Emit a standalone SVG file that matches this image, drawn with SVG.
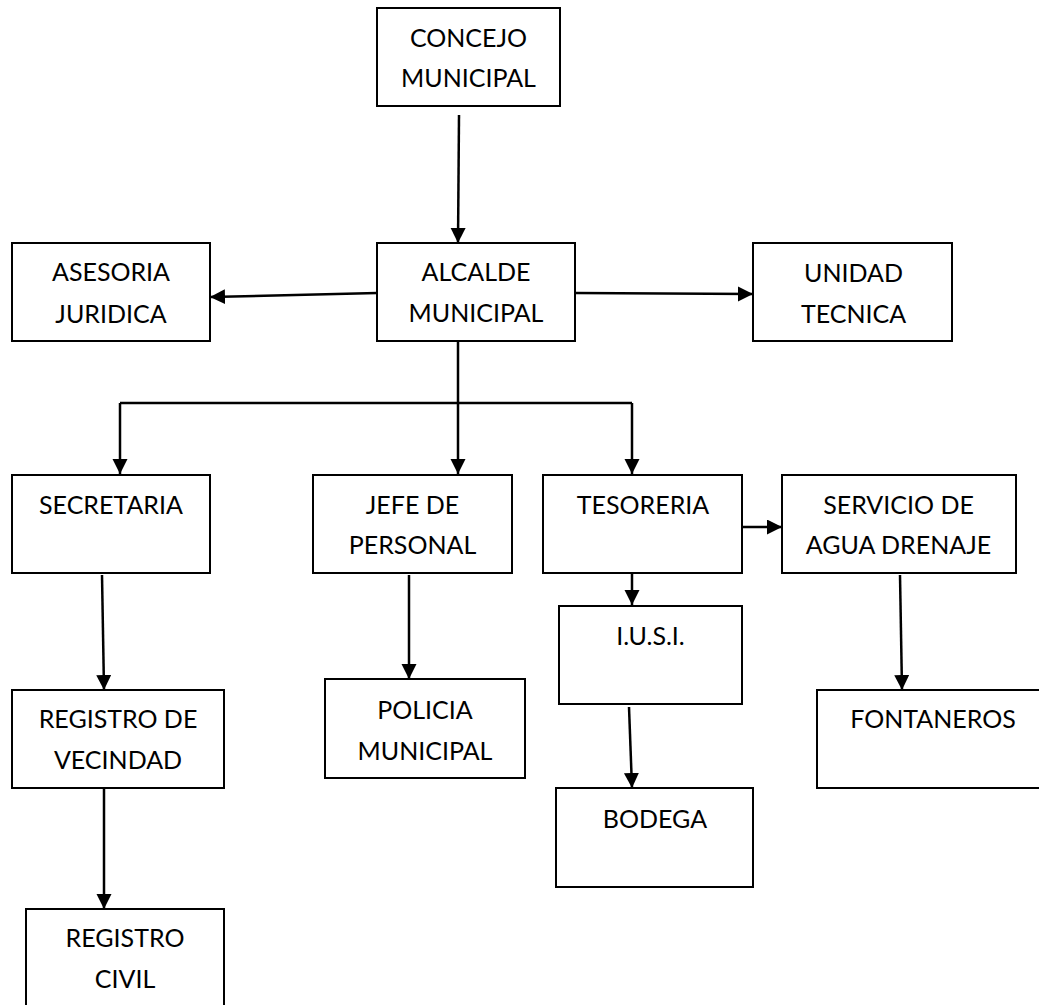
<svg xmlns="http://www.w3.org/2000/svg" width="1039" height="1005" viewBox="0 0 1039 1005">
<style>
.box{fill:#fff;stroke:#000;stroke-width:2}
.t{font-family:Lato,"Liberation Sans",Arial,sans-serif;font-size:25px;fill:#000;text-anchor:middle}
.c{fill:none;stroke:#000;stroke-width:2.5}
</style>
<defs>
<marker id="ah" markerUnits="userSpaceOnUse" markerWidth="17" markerHeight="17" refX="15" refY="7.5" orient="auto">
<path d="M0,0 L15,7.5 L0,15 z" fill="#000"/>
</marker>
</defs>
<rect width="1039" height="1005" fill="#fff"/>
<g id="connectors">
<path class="c" d="M459,115 L458,243" marker-end="url(#ah)"/>
<path class="c" d="M377,293 L210,297" marker-end="url(#ah)"/>
<path class="c" d="M575,293 L753,294" marker-end="url(#ah)"/>
<path class="c" d="M458,341 L458,474" marker-end="url(#ah)"/>
<path class="c" d="M120,403 L632,403"/>
<path class="c" d="M120,403 L120,474" marker-end="url(#ah)"/>
<path class="c" d="M632,403 L632,474" marker-end="url(#ah)"/>
<path class="c" d="M742,527 L782,527" marker-end="url(#ah)"/>
<path class="c" d="M632,573 L632,605" marker-end="url(#ah)"/>
<path class="c" d="M629,707 L632,788" marker-end="url(#ah)"/>
<path class="c" d="M900,575 L902,690" marker-end="url(#ah)"/>
<path class="c" d="M102,575 L104,690" marker-end="url(#ah)"/>
<path class="c" d="M104,788 L104,909" marker-end="url(#ah)"/>
<path class="c" d="M409,575 L409,679" marker-end="url(#ah)"/>
</g>
<g id="concejo"><rect class="box" x="377" y="8" width="183" height="98"/><text class="t" x="468.5" y="47">CONCEJO</text><text class="t" x="468.5" y="87">MUNICIPAL</text></g>
<g id="alcalde"><rect class="box" x="377" y="243" width="198" height="98"/><text class="t" x="476" y="281">ALCALDE</text><text class="t" x="476" y="322">MUNICIPAL</text></g>
<g id="asesoria"><rect class="box" x="12" y="243" width="198" height="98"/><text class="t" x="111" y="281">ASESORIA</text><text class="t" x="111" y="323">JURIDICA</text></g>
<g id="unidad"><rect class="box" x="753" y="243" width="199" height="98"/><text class="t" x="853.5" y="282">UNIDAD</text><text class="t" x="853.5" y="323">TECNICA</text></g>
<g id="secretaria"><rect class="box" x="12" y="475" width="198" height="98"/><text class="t" x="111" y="514">SECRETARIA</text></g>
<g id="jefe"><rect class="box" x="313" y="475" width="199" height="98"/><text class="t" x="412.5" y="514">JEFE DE</text><text class="t" x="412.5" y="554">PERSONAL</text></g>
<g id="tesoreria"><rect class="box" x="543" y="475" width="199" height="98"/><text class="t" x="643" y="514">TESORERIA</text></g>
<g id="servicio"><rect class="box" x="782" y="475" width="234" height="98"/><text class="t" x="898.5" y="514">SERVICIO DE</text><text class="t" x="898.5" y="554">AGUA DRENAJE</text></g>
<g id="iusi"><rect class="box" x="559" y="606" width="183" height="98"/><text class="t" x="650.5" y="645">I.U.S.I.</text></g>
<g id="bodega"><rect class="box" x="556" y="788" width="197" height="99"/><text class="t" x="655" y="828">BODEGA</text></g>
<g id="fontaneros"><rect class="box" x="817" y="690" width="232" height="98"/><text class="t" x="933" y="728">FONTANEROS</text></g>
<g id="registro-vecindad"><rect class="box" x="12" y="690" width="212" height="98"/><text class="t" x="118" y="728">REGISTRO DE</text><text class="t" x="118" y="769">VECINDAD</text></g>
<g id="policia"><rect class="box" x="325" y="679" width="200" height="99"/><text class="t" x="425" y="719">POLICIA</text><text class="t" x="425" y="760">MUNICIPAL</text></g>
<g id="registro-civil"><rect class="box" x="26" y="909" width="198" height="110"/><text class="t" x="125" y="947">REGISTRO</text><text class="t" x="125" y="988">CIVIL</text></g>
</svg>
